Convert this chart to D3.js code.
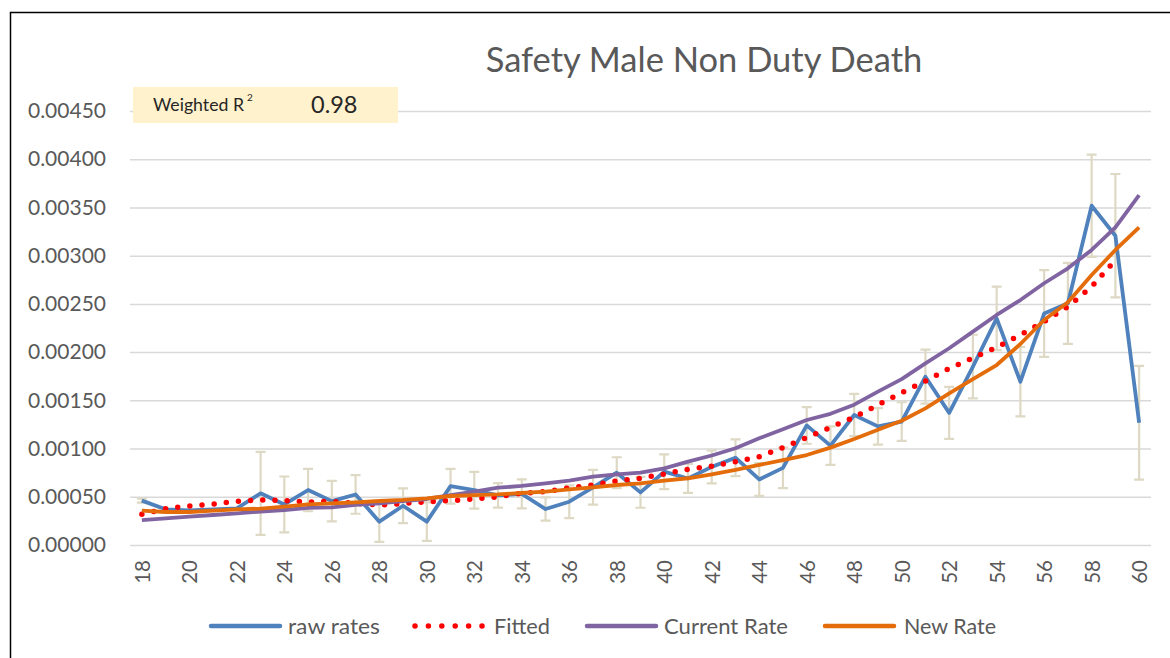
<!DOCTYPE html>
<meta charset="utf-8">
<script src="https://d3js.org/d3.v7.min.js"></script>
<body>
<style>
  html, body { margin: 0; background: #fff; }
  text { font-family: Lato, "Noto Sans", sans-serif; }
</style>
<svg width="1170" height="658"></svg>
<script>

var ages = [18, 19, 20, 21, 22, 23, 24, 25, 26, 27, 28, 29, 30, 31, 32, 33, 34, 35, 36, 37, 38,
            39, 40, 41, 42, 43, 44, 45, 46, 47, 48, 49, 50, 51, 52, 53, 54, 55, 56, 57, 58, 59, 60];

var rawRates = [0.000460, 0.000370, 0.000360, 0.000370, 0.000380, 0.000536, 0.000420, 0.000570, 0.000455,
                0.000524, 0.000242, 0.000407, 0.000242, 0.000610, 0.000568, 0.000515, 0.000530, 0.000373,
                0.000449, 0.000598, 0.000750, 0.000546, 0.000760, 0.000690, 0.000810, 0.000905, 0.000680,
                0.000800, 0.001240, 0.001030, 0.001348, 0.001230, 0.001280, 0.001745, 0.001370, 0.001850,
                0.002350, 0.001693, 0.002400, 0.002506, 0.003518, 0.003207, 0.001268];

var rawError = [0.00002, 0, 0, 0, 0, 0.00043, 0.00029, 0.00022, 0.00021,
                0.00020, 0.00021, 0.00018, 0.00020, 0.00018, 0.00019, 0.000127, 0.00015, 0.00012,
                0.00017, 0.00018, 0.00016, 0.00016, 0.00018, 0.00015, 0.00017, 0.00019, 0.00017,
                0.00021, 0.00019, 0.00020, 0.00022, 0.00019, 0.00020, 0.00028, 0.00027, 0.00033,
                0.00033, 0.00036, 0.00045, 0.00042, 0.00053, 0.00064, 0.00059];

var fitted = [0.000318, 0.000377, 0.000405, 0.000425, 0.000453, 0.000467, 0.000460, 0.000446, 0.000453,
              0.000430, 0.000415, 0.000430, 0.000449, 0.000460, 0.000477, 0.000500, 0.000536, 0.000553,
              0.000594, 0.000622, 0.000664, 0.000692, 0.000736, 0.000785, 0.000816, 0.000864, 0.000916,
              0.001009, 0.001113, 0.001220, 0.001324, 0.001452, 0.001580, 0.001700, 0.001830, 0.001940,
              0.002050, 0.002178, 0.002316, 0.002471, 0.002678, 0.002955, null];

var currentRate = [0.000259, 0.000277, 0.000294, 0.000311, 0.000328, 0.000346, 0.000363, 0.000384, 0.000390,
                   0.000415, 0.000432, 0.000456, 0.000477, 0.000518, 0.000553, 0.000594, 0.000612, 0.000640,
                   0.000667, 0.000708, 0.000733, 0.000750, 0.000795, 0.000864, 0.000928, 0.001003, 0.001106,
                   0.001200, 0.001296, 0.001360, 0.001455, 0.001590, 0.001720, 0.001884, 0.002040, 0.002212,
                   0.002385, 0.002540, 0.002714, 0.002869, 0.003059, 0.003294, 0.003629];

var newRate = [0.000356, 0.000342, 0.000342, 0.000356, 0.000370, 0.000377, 0.000397, 0.000422, 0.000432,
               0.000442, 0.000456, 0.000467, 0.000484, 0.000508, 0.000518, 0.000525, 0.000539, 0.000553,
               0.000577, 0.000598, 0.000622, 0.000640, 0.000667, 0.000692, 0.000733, 0.000778, 0.000830,
               0.000881, 0.000933, 0.001010, 0.001100, 0.001195, 0.001288, 0.001417, 0.001573, 0.001721,
               0.001866, 0.002084, 0.002333, 0.002517, 0.002800, 0.003059, 0.003294];

var yTicks = [0, 0.0005, 0.0010, 0.0015, 0.0020, 0.0025, 0.0030, 0.0035, 0.0040, 0.0045];
var xTicks = [18, 20, 22, 24, 26, 28, 30, 32, 34, 36, 38, 40, 42, 44, 46, 48, 50, 52, 54, 56, 58, 60];

var seriesNames = ['raw rates', 'Fitted', 'Current Rate', 'New Rate'];
var titleText = 'Safety Male Non Duty Death';
var r2Label = 'Weighted R';
var r2Value = '0.98';

var colors = { raw: '#4f81bd', fit: '#ff0000', cur: '#8064a2', nw: '#e46c0a', err: '#ddd9c4' };

var svg = d3.select('svg');

// plot area ("top" is taken by window.top, so other names)
var pLeft = 130, pRight = 1151, pTop = 111, pBottom = 545;

var x = d3.scalePoint().domain(ages).range([pLeft, pRight]).padding(0.5);
var y = d3.scaleLinear().domain([0, 0.0045]).range([pBottom, pTop]);

// outer frame
svg.append('rect')
    .attr('x', 10.5).attr('y', 12.5)
    .attr('width', 1300).attr('height', 800)
    .attr('fill', 'none').attr('stroke', '#000').attr('stroke-width', 1.5);

// y axis + gridlines
var yAxis = svg.append('g')
    .attr('transform', 'translate(' + pLeft + ',0)')
    .call(d3.axisLeft(y).tickValues(yTicks).tickFormat(d3.format('.5f'))
        .tickSize(-(pRight - pLeft)).tickPadding(24));
yAxis.select('.domain').remove();
yAxis.selectAll('line').attr('stroke', '#d9d9d9').attr('stroke-width', 1.5);
yAxis.selectAll('text').attr('fill', '#595959').style('font-size', '21px');

// x axis labels
var xAxis = svg.append('g')
    .attr('transform', 'translate(0,' + pBottom + ')')
    .call(d3.axisBottom(x).tickValues(xTicks).tickSize(0));
xAxis.select('.domain').remove();
xAxis.selectAll('text')
    .attr('transform', 'rotate(-90)')
    .attr('text-anchor', 'end')
    .attr('x', -15).attr('y', 0).attr('dy', '0.36em')
    .attr('fill', '#595959').style('font-size', '20.5px');

// title
svg.append('text')
    .attr('x', 704).attr('y', 72)
    .attr('text-anchor', 'middle')
    .attr('fill', '#595959')
    .style('font-size', '34.5px')
    .text(titleText);

// weighted R2 box
svg.append('rect')
    .attr('x', 133).attr('y', 87).attr('width', 265).attr('height', 36)
    .attr('fill', '#fff2cc');
svg.append('text')
    .attr('x', 153).attr('y', 111)
    .attr('fill', '#262626')
    .style('font-size', '16.5px')
    .attr('textLength', 91).attr('lengthAdjust', 'spacingAndGlyphs')
    .text(r2Label);
svg.append('text')
    .attr('x', 247).attr('y', 101)
    .attr('fill', '#262626')
    .style('font-size', '10px')
    .text('2');
svg.append('text')
    .attr('x', 311).attr('y', 113)
    .attr('fill', '#262626')
    .style('font-size', '23.5px')
    .text(r2Value);

// error bars
var errData = ages.map(function (a, i) { return { age: a, v: rawRates[i], e: rawError[i] }; })
    .filter(function (d) { return d.e > 0; });
var eb = svg.append('g').attr('stroke', colors.err).attr('stroke-width', 2.2).attr('fill', 'none');
eb.selectAll('path').data(errData).enter().append('path')
    .attr('d', function (d) {
        var cx = x(d.age), y1 = y(d.v + d.e), y2 = y(d.v - d.e);
        return 'M' + (cx - 5) + ',' + y1 + 'H' + (cx + 5) +
               'M' + cx + ',' + y1 + 'V' + y2 +
               'M' + (cx - 5) + ',' + y2 + 'H' + (cx + 5);
    });

function lineFor(values) {
    return d3.line()
        .defined(function (d, i) { return values[i] != null; })
        .x(function (d, i) { return x(ages[i]); })
        .y(function (d, i) { return y(values[i]); })(ages);
}

svg.append('path').attr('d', lineFor(rawRates))
    .attr('fill', 'none').attr('stroke', colors.raw).attr('stroke-width', 3.8).attr('stroke-linejoin', 'round');
svg.append('path').attr('d', lineFor(fitted))
    .attr('fill', 'none').attr('stroke', colors.fit).attr('stroke-width', 5.5)
    .attr('stroke-linecap', 'round').attr('stroke-dasharray', '0 12.2');
svg.append('path').attr('d', lineFor(currentRate))
    .attr('fill', 'none').attr('stroke', colors.cur).attr('stroke-width', 3.8).attr('stroke-linejoin', 'round');
svg.append('path').attr('d', lineFor(newRate))
    .attr('fill', 'none').attr('stroke', colors.nw).attr('stroke-width', 3.8).attr('stroke-linejoin', 'round');

// legend
var legendItems = [
    { name: seriesNames[0], color: colors.raw, x: 211, dots: false, tx: 288, w: 92 },
    { name: seriesNames[1], color: colors.fit, x: 415, dots: true, tx: 494, w: 56 },
    { name: seriesNames[2], color: colors.cur, x: 587, dots: false, tx: 664, w: 124 },
    { name: seriesNames[3], color: colors.nw, x: 825, dots: false, tx: 904, w: 92 }
];
var lg = svg.append('g').selectAll('g').data(legendItems).enter().append('g')
    .attr('transform', function (d) { return 'translate(' + d.x + ',626)'; });
lg.append('line')
    .attr('x1', 0).attr('x2', function (d) { return d.dots ? 67 : 69; })
    .attr('stroke', function (d) { return d.color; })
    .attr('stroke-width', function (d) { return d.dots ? 5.5 : 4.5; })
    .attr('stroke-linecap', 'round')
    .attr('stroke-dasharray', function (d) { return d.dots ? '0 13.4' : null; });
lg.append('text')
    .attr('x', function (d) { return d.tx - d.x; })
    .attr('dy', '0.35em')
    .attr('fill', '#595959')
    .style('font-size', '22px')
    .attr('textLength', function (d) { return d.w; })
    .attr('lengthAdjust', 'spacingAndGlyphs')
    .text(function (d) { return d.name; });

</script>
</body>
